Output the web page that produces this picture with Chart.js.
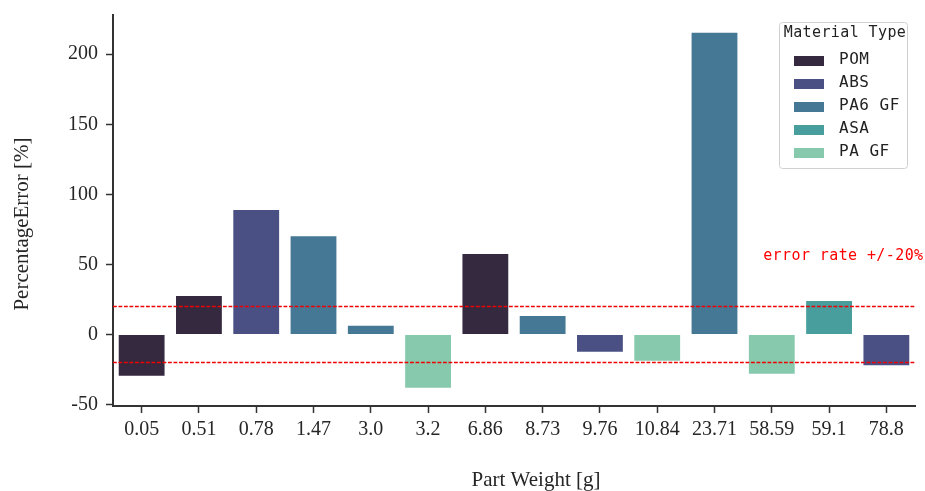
<!DOCTYPE html>
<html>
<head>
<meta charset="utf-8">
<script src="https://cdn.jsdelivr.net/npm/chart.js@4.4.1/dist/chart.umd.min.js"></script>
<style>
  html, body { margin: 0; padding: 0; background: #fff; }
  #wrap { width: 925px; height: 491px; }
</style>
</head>
<body>
<div id="wrap"><canvas id="myChart" width="925" height="491"></canvas></div>
<script>
const weights = ['0.05','0.51','0.78','1.47','3.0','3.2','6.86','8.73','9.76','10.84','23.71','58.59','59.1','78.8'];
const errors = [-29.5, 27.5, 88.8, 70.2, 6.2, -37.9, 57.4, 13.3, -12.3, -18.7, 215.4, -28, 24, -22];
const materialOf = ['POM','POM','ABS','PA6 GF','PA6 GF','PA GF','POM','PA6 GF','ABS','PA GF','PA6 GF','PA GF','ASA','ABS'];

const materials = ['POM','ABS','PA6 GF','ASA','PA GF'];
const materialColors = ['#352940','#4a5083','#457894','#479e9d','#87c9ac'];

const limitLines = [20, -20];
const noteText = 'error rate +/-20%';
const xTitle = 'Part Weight [g]';
const yTitle = 'PercentageError [%]';

const monoFont = "'DejaVu Sans Mono', monospace";
const serifFont = "'Liberation Serif', 'Times New Roman', serif";

// red dashed limits + note, drawn over the bars
const refLines = {
  id: 'refLines',
  afterDatasetsDraw(chart) {
    const { ctx, chartArea, scales } = chart;
    ctx.save();
    ctx.strokeStyle = '#ee0000';
    ctx.lineWidth = 1.5;
    ctx.setLineDash([3.8, 1.7]);
    limitLines.forEach(v => {
      const y = scales.y.getPixelForValue(v);
      ctx.beginPath();
      ctx.moveTo(chartArea.left, y);
      ctx.lineTo(chartArea.right, y);
      ctx.stroke();
    });
    ctx.setLineDash([]);
    ctx.fillStyle = '#ff0000';
    ctx.font = '15px ' + monoFont;
    ctx.letterSpacing = '0.4px';
    ctx.textBaseline = 'middle';
    ctx.textAlign = 'left';
    ctx.fillText(noteText, scales.x.getPixelForValue(10.85), scales.y.getPixelForValue(56));
    ctx.restore();
  }
};

// axis titles (placed like the original, a bit off centre)
const axisTitles = {
  id: 'axisTitles',
  afterDraw(chart) {
    const { ctx } = chart;
    ctx.save();
    ctx.fillStyle = '#262626';
    ctx.font = '21px ' + serifFont;
    ctx.textAlign = 'center';
    ctx.textBaseline = 'alphabetic';
    ctx.fillText(xTitle, 536, 486);
    ctx.translate(28, 224);
    ctx.rotate(-Math.PI / 2);
    ctx.fillText(yTitle, 0, 0);
    ctx.restore();
  }
};

// legend box in the upper right corner of the plot
const materialLegend = {
  id: 'materialLegend',
  afterDraw(chart) {
    const { ctx, chartArea } = chart;
    const right = chartArea.right - 8;
    const left = right - 128;
    const top = chartArea.top + 7;
    const bottom = top + 146;
    ctx.save();
    ctx.fillStyle = 'rgba(255,255,255,0.8)';
    ctx.strokeStyle = '#d0d0d0';
    ctx.lineWidth = 1;
    ctx.beginPath();
    ctx.roundRect(left + 0.5, top + 0.5, right - left, bottom - top, 3);
    ctx.fill();
    ctx.stroke();

    ctx.fillStyle = '#222';
    ctx.font = '15px ' + monoFont;
    ctx.letterSpacing = '0.4px';
    ctx.textBaseline = 'middle';
    ctx.textAlign = 'center';
    ctx.fillText('Material Type', (left + right) / 2 + 2, top + 11);

    ctx.textAlign = 'left';
    ctx.font = '16px ' + monoFont;
    ctx.letterSpacing = '0.5px';
    materials.forEach((m, i) => {
      const cy = top + 39 + i * 23;
      ctx.fillStyle = materialColors[i];
      ctx.fillRect(left + 15, cy - 5, 30, 10);
      ctx.fillStyle = '#222';
      ctx.fillText(m, left + 60, cy - 1);
    });
    ctx.restore();
  }
};

var ctx = document.getElementById('myChart').getContext('2d');
var chart = new Chart(ctx, {
  type: 'bar',
  data: {
    labels: weights,
    datasets: [{
      label: 'PercentageError',
      data: errors,
      backgroundColor: materialOf.map(m => materialColors[materials.indexOf(m)]),
      borderWidth: 0,
      categoryPercentage: 1.0,
      barPercentage: 0.8
    }]
  },
  options: {
    responsive: false,
    animation: false,
    layout: { padding: { top: 15, right: 10, left: 0, bottom: 0 } },
    plugins: {
      legend: { display: false },
      tooltip: { enabled: false }
    },
    scales: {
      x: {
        afterFit: s => { s.height = 85; },
        grid: {
          offset: false,
          drawOnChartArea: false,
          drawTicks: true,
          tickLength: 7,
          tickColor: '#333',
          tickWidth: 1.5
        },
        border: { display: true, color: '#333', width: 2 },
        ticks: {
          color: '#262626',
          padding: 5,
          maxRotation: 0,
          font: { family: serifFont, size: 20 }
        }
      },
      y: {
        min: -51,
        max: 228,
        afterFit: s => { s.width = 113; s.paddingTop = 0; s.paddingBottom = 0; },
        grid: {
          drawOnChartArea: false,
          drawTicks: true,
          tickLength: 7,
          tickColor: '#333',
          tickWidth: 1.5
        },
        border: { display: true, color: '#333', width: 2 },
        ticks: {
          stepSize: 50,
          includeBounds: false,
          color: '#262626',
          padding: 8,
          font: { family: serifFont, size: 20 }
        }
      }
    }
  },
  plugins: [refLines, axisTitles, materialLegend]
});
</script>
</body>
</html>
